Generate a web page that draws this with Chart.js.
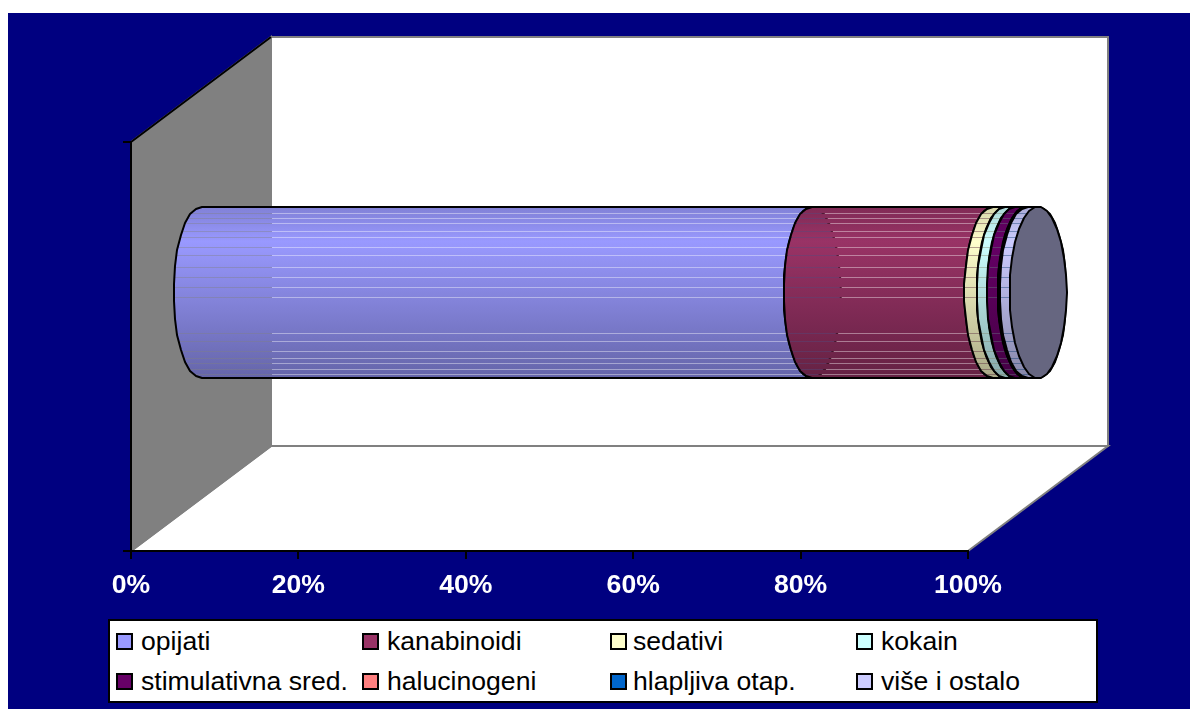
<!DOCTYPE html>
<html>
<head>
<meta charset="utf-8">
<title>Chart</title>
<script src="https://cdn.jsdelivr.net/npm/chart.js@4/dist/chart.umd.min.js"></script>
<style>
    html, body { margin: 0; padding: 0; background: #fff; }
    #wrap { position: relative; width: 1190px; height: 709px; overflow: hidden; }
    #chart { position: absolute; left: 0; top: 0; }
    #legend {
        position: absolute; left: 108px; top: 619px; width: 986px; height: 80px;
        padding: 0; background: #fff; border: 2px solid #000;
        display: grid; grid-template-columns: 246px 248px 246px 246px; grid-auto-rows: 40px;
        font: 26.6px "Liberation Sans", Arial, sans-serif; color: #000;
    }
    #legend .item { display: flex; align-items: center; padding-left: 6px; white-space: nowrap; }
    #legend .box { width: 13px; height: 13px; border: 2px solid #000; margin-right: 8px; flex: none; }
    #legend .item:nth-child(4n+3) .box { margin-right: 6px; }
</style>
</head>
<body>
<div id="wrap">
    <canvas id="chart" width="1190" height="709"></canvas>
    <div id="legend"></div>
</div>
<script>
const categories = ['opijati', 'kanabinoidi', 'sedativi', 'kokain', 'stimulativna sred.', 'halucinogeni', 'hlapljiva otap.', 'više i ostalo'];
const shares = [73, 21.6, 1.5, 1.2, 1.3, 0.1, 0.1, 1.2];
const colors = ['#9999FF', '#993366', '#FFFFCC', '#CCFFFF', '#660066', '#FF8080', '#0066CC', '#CCCCFF'];
const axisMax = 100;
const axisStep = 20;

// 3D box depth, the cylinder sits about half way in
const DEPTH_X = 140;
const DEPTH_Y = 105;
const BAR_SHIFT_X = 70;
const BAR_SHIFT_Y = 54;
const CAP_RX = 28.5;
const FACETS = 30;

// where the banded fill leaves thin see-through gaps (fraction of bar height)
const gapStops = [.037, .063, .095, .14, .177, .236, .282, .353, .411, .47, .528, .739, .784, .844, .881, .914, .949, .977];

function parseHex(hex) {
    return [1, 3, 5].map(i => parseInt(hex.substr(i, 2), 16));
}

function shade(rgb, f) {
    // light band a fifth of the way down, darkening towards the bottom
    const k = f < .2 ? .84 + .16 * f / .2 : 1 - .34 * (f - .2) / .8;
    return rgb.map(c => Math.round(c * k));
}

function bandFill(ctx, top, height, hex) {
    const rgb = parseHex(hex);
    const grad = ctx.createLinearGradient(0, top, 0, top + height);
    const solid = f => `rgb(${shade(rgb, f).join(',')})`;
    const gap = f => `rgba(${shade(rgb, f).join(',')},0.6)`;
    const t = 1 / height;
    grad.addColorStop(0, solid(0));
    gapStops.forEach((f, i) => {
        grad.addColorStop(f, solid(f));
        grad.addColorStop(f, gap(f));
        grad.addColorStop(f + t, gap(f));
        grad.addColorStop(f + t, solid(f));
        if (f < .2 && gapStops[i + 1] > .2) grad.addColorStop(.2, solid(.2));
    });
    grad.addColorStop(1, solid(1));
    return grad;
}

function arcPoints(cx, cy, ry, from, to) {
    // excel draws the round ends as a coarse polygon
    const pts = [];
    const n = Math.round(FACETS * Math.abs(to - from) / (Math.PI * 2));
    for (let i = 0; i <= n; i++) {
        const a = from + (to - from) * i / n;
        pts.push([Math.round(cx + CAP_RX * Math.cos(a)), Math.round(cy + ry * Math.sin(a))]);
    }
    return pts;
}

function tracePoints(ctx, pts) {
    pts.forEach((p, i) => i ? ctx.lineTo(p[0], p[1]) : ctx.moveTo(p[0], p[1]));
}

function drawSegment(ctx, bar, hex) {
    const left = bar.base + BAR_SHIFT_X;
    const right = bar.x + BAR_SHIFT_X;
    const cy = bar.y - BAR_SHIFT_Y;
    const ry = bar.height / 2;
    const top = cy - ry;

    const leftArc = arcPoints(left, cy, ry, Math.PI / 2, Math.PI * 1.5);
    const rightArc = arcPoints(right, cy, ry, -Math.PI / 2, Math.PI / 2);
    ctx.lineWidth = 2;
    ctx.lineJoin = 'round';
    ctx.strokeStyle = '#000';

    ctx.beginPath();
    tracePoints(ctx, leftArc.concat(rightArc));
    ctx.closePath();
    ctx.fillStyle = bandFill(ctx, top, bar.height, hex);
    ctx.fill();
    ctx.stroke();

    // end cap, half the series colour; the next segment paints over it
    ctx.beginPath();
    tracePoints(ctx, arcPoints(right, cy, ry, 0, Math.PI * 2));
    ctx.closePath();
    ctx.fillStyle = `rgb(${parseHex(hex).map(c => Math.round(c / 2)).join(',')})`;
    ctx.fill();
    ctx.stroke();
}

const box3d = {
    id: 'box3d',
    beforeDraw(chart) {
        const { ctx, scales: { x, y } } = chart;
        const l = x.left, r = x.right, t = y.top, b = y.bottom;
        ctx.save();
        ctx.fillStyle = '#000080';
        ctx.fillRect(8, 13, chart.width - 8, chart.height - 13);

        // back wall and floor
        ctx.fillStyle = '#fff';
        ctx.strokeStyle = '#808080';
        ctx.lineWidth = 2;
        ctx.beginPath();
        ctx.rect(l + DEPTH_X, t - DEPTH_Y, r - l, b - t);
        ctx.fill();
        ctx.stroke();
        ctx.beginPath();
        ctx.moveTo(l, b);
        ctx.lineTo(l + DEPTH_X, b - DEPTH_Y);
        ctx.lineTo(r + DEPTH_X, b - DEPTH_Y);
        ctx.lineTo(r, b);
        ctx.closePath();
        ctx.fill();
        ctx.stroke();

        // side wall
        ctx.fillStyle = '#808080';
        ctx.beginPath();
        ctx.moveTo(l, t);
        ctx.lineTo(l + DEPTH_X, t - DEPTH_Y);
        ctx.lineTo(l + DEPTH_X, b - DEPTH_Y);
        ctx.lineTo(l, b);
        ctx.closePath();
        ctx.fill();
        ctx.stroke();

        ctx.strokeStyle = '#000';
        ctx.beginPath();
        ctx.moveTo(l, t);
        ctx.lineTo(l + DEPTH_X, t - DEPTH_Y);
        ctx.moveTo(l, t);
        ctx.lineTo(l, b);
        ctx.moveTo(l - 8, t);
        ctx.lineTo(l, t);
        ctx.moveTo(l - 8, b);
        ctx.lineTo(l, b);
        ctx.stroke();
        ctx.restore();
    },
    beforeDatasetsDraw(chart) {
        const ctx = chart.ctx;
        ctx.save();
        chart.data.datasets.forEach((ds, i) => {
            chart.getDatasetMeta(i).data.forEach(bar => drawSegment(ctx, bar, ds.backgroundColor));
        });
        ctx.restore();
        return false;
    }
};

new Chart(document.getElementById('chart'), {
    type: 'bar',
    plugins: [box3d],
    data: {
        labels: [''],
        datasets: categories.map((name, i) => ({
            label: name,
            data: [shares[i]],
            backgroundColor: colors[i],
            barPercentage: .418,
            categoryPercentage: 1
        }))
    },
    options: {
        indexAxis: 'y',
        responsive: false,
        animation: false,
        layout: { padding: { left: 131, right: 222, top: 142, bottom: 0 } },
        plugins: { legend: { display: false }, tooltip: { enabled: false } },
        scales: {
            x: {
                stacked: true,
                min: 0,
                max: axisMax,
                afterFit: scale => { scale.height = 158; },
                border: { color: '#000', width: 2 },
                grid: { drawOnChartArea: false, color: '#000', lineWidth: 2, tickLength: 8 },
                ticks: {
                    stepSize: axisStep,
                    maxRotation: 0,
                    padding: 11,
                    color: '#fff',
                    font: { family: '"Liberation Sans", Arial, sans-serif', size: 26.6, weight: 'bold' },
                    callback: v => v + '%'
                }
            },
            y: { stacked: true, display: false }
        }
    }
});

document.getElementById('legend').innerHTML = categories.map((name, i) => `
    <div class="item"><span class="box" style="background:${colors[i]}"></span>${name}</div>
`).join('');
</script>
</body>
</html>
